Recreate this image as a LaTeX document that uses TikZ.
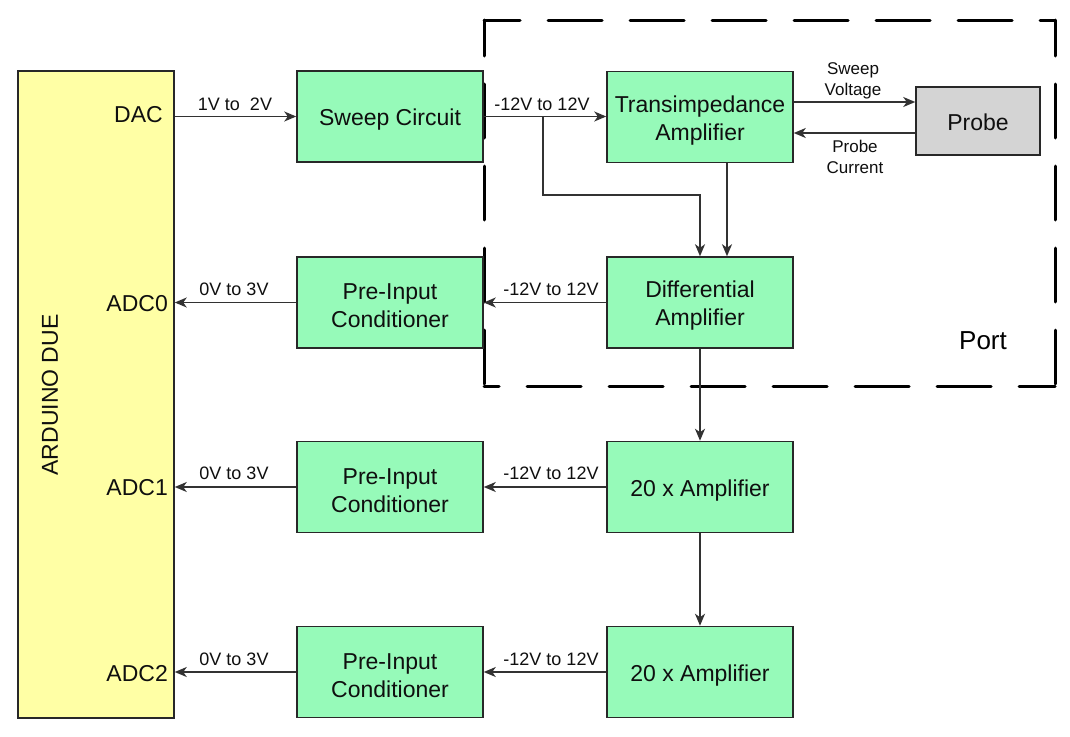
\documentclass[tikz,border=0pt]{standalone}
\usepackage{fontspec}
\setmainfont{Liberation Sans}
\usetikzlibrary{arrows.meta}
\definecolor{boxgreen}{RGB}{150,250,185}
\definecolor{ardyellow}{RGB}{255,255,165}
\definecolor{probegray}{RGB}{212,212,212}
\definecolor{edgecol}{RGB}{40,40,40}
\definecolor{wirecol}{RGB}{50,50,50}
\definecolor{txtcol}{RGB}{15,15,15}
\newcommand\bxs{\rule{0pt}{23pt}}
\begin{document}
\begin{tikzpicture}[x=1pt,y=-1pt,
  blk/.style={draw=edgecol,line width=1.5pt,fill=boxgreen,minimum width=186pt,minimum height=91pt,inner sep=0pt,align=center,font=\fontsize{23}{28}\selectfont,text=txtcol},
  conn/.style={draw=wirecol,line width=1.6pt,-{Stealth[length=12pt,width=10pt,inset=3.5pt]}},
  lbl/.style={font=\fontsize{18}{21}\selectfont,inner sep=0pt,anchor=base,text=txtcol},
  smalllbl/.style={font=\fontsize{17}{20.5}\selectfont,inner sep=0pt,align=center,text=txtcol},
  pinlbl/.style={font=\fontsize{23}{27}\selectfont,anchor=base east,inner sep=0pt,text=txtcol},
  portline/.style={line width=3pt,line cap=round,dash pattern=on 54pt off 28pt,dash phase=18pt},
]
\useasboundingbox (0,0) rectangle (1070,736);
\fill[white] (0,0) rectangle (1070,736);

% dashed Port region
\coordinate (p1) at (484,20);
\coordinate (p2) at (1055,20);
\coordinate (p3) at (1055,386);
\coordinate (p4) at (484,386);
\draw[portline] (p1) -- (p2);
\draw[portline] (p2) -- (p3);
\draw[portline] (p3) -- (p4);
\draw[portline] (p1) -- (p4);
\node[font=\fontsize{26}{30}\selectfont,inner sep=0pt] (portlbl) at (983,341) {Port};

% Arduino
\node[draw=edgecol,line width=1.5pt,fill=ardyellow,minimum width=156pt,minimum height=647pt,inner sep=0pt] (ard) at (96,394.5) {};
\node[rotate=90,font=\fontsize{23}{27}\selectfont,text=txtcol] (ardlbl) at (50,395) {ARDUINO DUE};
\node[pinlbl] (dac) at (163,122) {DAC};
\node[pinlbl] (adc0) at (168,311) {ADC0};
\node[pinlbl] (adc1) at (168,495) {ADC1};
\node[pinlbl] (adc2) at (168,681) {ADC2};

% blocks
\node[blk] (sweep) at (390,116.5) {\bxs Sweep Circuit};
\node[blk] (trans) at (700,117) {\bxs Transimpedance\\Amplifier};
\node[draw=edgecol,line width=1.5pt,fill=probegray,minimum width=124pt,minimum height=68pt,inner sep=0pt,font=\fontsize{23}{27}\selectfont,text=txtcol] (probe) at (978,121) {\rule{0pt}{19pt}Probe};
\node[blk] (diff) at (700,302.5) {\bxs Differential\\Amplifier};
\node[blk] (pre0) at (390,302.5) {\bxs Pre-Input\\Conditioner};
\node[blk] (amp1) at (700,487) {\bxs 20 x Amplifier};
\node[blk] (pre1) at (390,487) {\bxs Pre-Input\\Conditioner};
\node[blk] (amp2) at (700,672) {\bxs 20 x Amplifier};
\node[blk] (pre2) at (390,672) {\bxs Pre-Input\\Conditioner};

% connectors, top row
\draw[conn] (ard.east |- sweep.west) -- (sweep.west);
\node[lbl] (l1) at (235,110) {1V to\ \ 2V};
\draw[conn] (sweep.east) -- (trans.west |- sweep.east);
\node[lbl] (l2) at (542,110) {-12V to 12V};
\coordinate (br) at (543,116.5);
\coordinate (bend) at (543,195);
\draw[conn] (br) -- (bend) -- (bend -| diff.north) -- (diff.north);
\draw[conn] (trans.south -| 727,0) -- (diff.north -| 727,0);

% probe
\draw[conn] (trans.east |- 0,102) -- (probe.west |- 0,102);
\draw[conn] (probe.west |- 0,133) -- (trans.east |- 0,133);
\node[smalllbl] (sv) at (853,81) {Sweep\\Voltage};
\node[smalllbl] (pc) at (855,157) {Probe\\Current};

% row 0
\draw[conn] (diff.west) -- (pre0.east);
\node[lbl] (l3) at (551,295) {-12V to 12V};
\draw[conn] (pre0.west) -- (ard.east |- pre0.west);
\node[lbl] (l4) at (234,295) {0V to 3V};

% vertical chain
\draw[conn] (diff.south) -- (amp1.north);
\draw[conn] (amp1.south) -- (amp2.north);

% row 1
\draw[conn] (amp1.west) -- (pre1.east);
\node[lbl] (l5) at (551,479) {-12V to 12V};
\draw[conn] (pre1.west) -- (ard.east |- pre1.west);
\node[lbl] (l6) at (234,479) {0V to 3V};

% row 2
\draw[conn] (amp2.west) -- (pre2.east);
\node[lbl] (l7) at (551,665) {-12V to 12V};
\draw[conn] (pre2.west) -- (ard.east |- pre2.west);
\node[lbl] (l8) at (234,665) {0V to 3V};
\end{tikzpicture}
\end{document}
